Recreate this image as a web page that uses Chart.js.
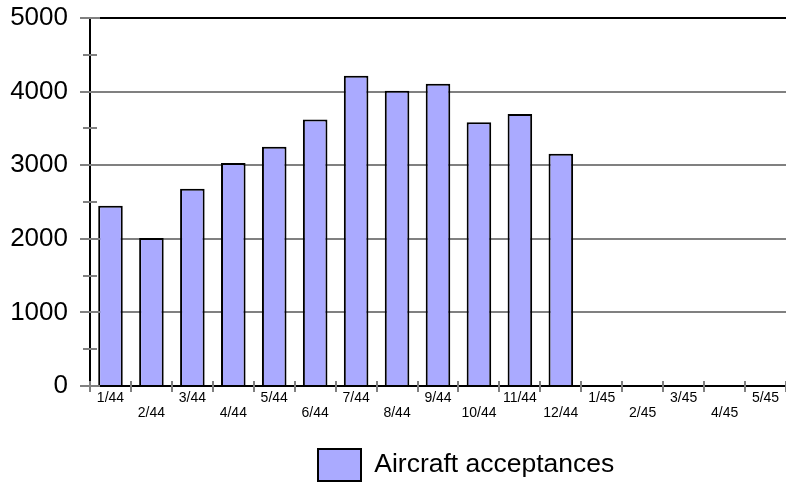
<!DOCTYPE html>
<html>
<head>
<meta charset="utf-8">
<script src="https://cdn.jsdelivr.net/npm/chart.js@4.4.0/dist/chart.umd.min.js"></script>
<style>
  html, body { margin: 0; padding: 0; background: #fff; }
</style>
</head>
<body>
<canvas id="chart" width="786" height="482"></canvas>
<script>
// data
const months = ["1/44", "2/44", "3/44", "4/44", "5/44", "6/44", "7/44", "8/44", "9/44",
  "10/44", "11/44", "12/44", "1/45", "2/45", "3/45", "4/45", "5/45"];
const acceptances = [2450, 2010, 2680, 3030, 3250, 3620, 4215, 4010, 4105,
  3585, 3695, 3155, null, null, null, null, null];
const seriesName = "Aircraft acceptances";
const yMax = 5000;
const yStep = 1000;
const yMinorStep = 500;

const GRAY = "#808080";
const FONT = "'Liberation Sans', Arial, sans-serif";

// tick marks that cross the axes + black top frame, legend placement
const axisMarks = {
  id: "axisMarks",
  afterLayout(chart) {
    const lg = chart.legend;
    const w = lg.right - lg.left;
    const h = lg.bottom - lg.top;
    lg.left = 308; lg.right = 308 + w;
    lg.top = 439; lg.bottom = 439 + h;
  },
  afterDatasetsDraw(chart) {
    const { ctx, chartArea, scales: { x, y } } = chart;
    ctx.save();
    // top frame
    ctx.strokeStyle = "#000";
    ctx.lineWidth = 2;
    const top = y.getPixelForValue(yMax);
    ctx.beginPath();
    ctx.moveTo(chartArea.left, top);
    ctx.lineTo(chartArea.right, top);
    ctx.stroke();

    ctx.strokeStyle = GRAY;
    ctx.lineWidth = 2;
    // y ticks, major + minor
    for (let v = 0; v <= yMax; v += yMinorStep) {
      const py = Math.round(y.getPixelForValue(v));
      const len = v % yStep === 0 ? 10 : 7;
      ctx.beginPath();
      ctx.moveTo(chartArea.left - len, py);
      ctx.lineTo(chartArea.left + len, py);
      ctx.stroke();
    }
    // x ticks at category boundaries
    const base = y.getPixelForValue(0);
    const n = months.length;
    for (let i = 0; i <= n; i++) {
      const px = Math.round(x.left + i * x.width / n);
      ctx.beginPath();
      ctx.moveTo(px, base - 5);
      ctx.lineTo(px, base + 6);
      ctx.stroke();
    }
    ctx.restore();
  }
};

new Chart(document.getElementById("chart"), {
  type: "bar",
  data: {
    labels: months,
    datasets: [{
      label: seriesName,
      data: acceptances,
      backgroundColor: "#aaaaff",
      borderColor: "#000",
      borderWidth: 2,
      borderSkipped: "bottom",
      barPercentage: 0.6,
      categoryPercentage: 1.0
    }]
  },
  options: {
    responsive: false,
    animation: false,
    devicePixelRatio: 1,
    layout: { padding: 0 },
    scales: {
      x: {
        offset: true,
        grid: { display: false, drawTicks: false },
        border: { display: true, color: "#000", width: 2 },
        ticks: {
          autoSkip: false,
          maxRotation: 0,
          padding: 4,
          color: "#000",
          font: { family: FONT, size: 14, lineHeight: 1.1 },
          callback: function (value, index) {
            const lab = months[index];
            return index % 2 === 0 ? [lab] : ["", lab];
          }
        },
        afterFit(scale) { scale.height = 44; }
      },
      y: {
        min: 0,
        max: yMax,
        grid: {
          drawTicks: false,
          color: GRAY,
          lineWidth: 2
        },
        border: { display: true, color: "#000", width: 2 },
        ticks: {
          stepSize: yStep,
          padding: 22,
          color: "#000",
          font: { family: FONT, size: 26 },
          callback: (v) => String(v)
        },
        afterFit(scale) {
          scale.width = 90;
          scale.paddingTop = 18;
          scale.paddingBottom = 0;
        }
      }
    },
    plugins: {
      legend: {
        position: "bottom",
        align: "start",
        labels: {
          boxWidth: 43,
          boxHeight: 32,
          color: "#000",
          padding: 10,
          font: { family: FONT, size: 26.5 }
        }
      },
      tooltip: { enabled: false }
    }
  },
  plugins: [axisMarks]
});
</script>
</body>
</html>
